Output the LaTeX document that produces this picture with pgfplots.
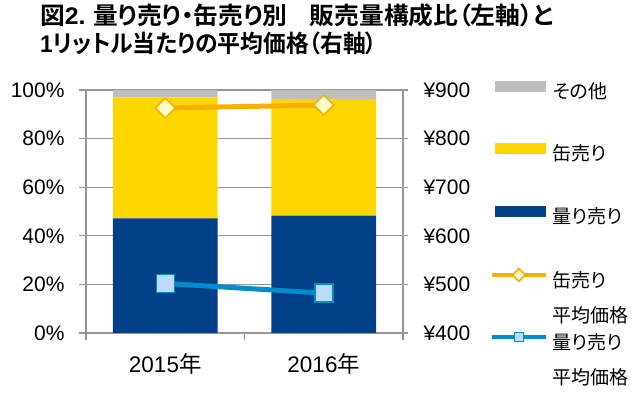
\documentclass[border=0pt]{standalone}
\usepackage{pgfplots}
\pgfplotsset{compat=1.18}
\usepackage{fontspec}
\setmainfont{Liberation Sans}
\newfontfamily\jp{Noto Sans CJK JP}[RawFeature=+palt]
\newfontfamily\jpb{Noto Sans CJK JP Bold}[RawFeature=+palt]
\definecolor{lgray}{RGB}{191,191,191}
\definecolor{byellow}{RGB}{255,214,0}
\definecolor{navy}{RGB}{0,64,135}
\definecolor{gridgray}{RGB}{150,150,150}
\definecolor{oline}{RGB}{248,176,0}
\definecolor{dfill}{RGB}{255,249,204}
\definecolor{bline}{RGB}{0,140,205}
\definecolor{sfill}{RGB}{190,218,252}
\newsavebox\tbox
\newcommand\fitw[2]{\sbox\tbox{#2}\pgfmathsetmacro\tsc{#1/\the\wd\tbox}\scalebox{\tsc}[1]{\usebox\tbox}}
\begin{document}
\begin{tikzpicture}
\useasboundingbox (0,0) rectangle (640bp,399bp);
\node[anchor=base west, inner sep=0pt, font=\fontsize{24bp}{26bp}\selectfont] at (40bp,374bp)
  {\fitw{513bp}{\jpb 図{\bfseries\rmfamily 2.}\hspace{0.3em}量り売り・缶売り別\hspace{0.9em}販売量構成比（左軸）と}};
\node[anchor=base west, inner sep=0pt, font=\fontsize{24bp}{26bp}\selectfont] at (40bp,346bp)
  {\fitw{337bp}{{\bfseries\rmfamily 1}\jpb リットル当たりの平均価格（右軸）}};
\begin{axis}[
  at={(86bp,66bp)}, anchor=south west, scale only axis,
  width=317bp, height=243bp,
  xmin=0, xmax=2, ymin=0, ymax=100,
  ybar stacked, bar width=0.66,
  axis x line*=bottom, axis y line*=left,
  xtick={0,1,2}, xticklabels={,,},
  extra x ticks={0.5,1.5},
  extra x tick labels={2015{\jp 年},2016{\jp 年}},
  extra x tick style={major tick length=0pt, xticklabel style={yshift=-17bp, font=\fontsize{22.5bp}{25bp}\selectfont}},
  ytick={0,20,...,100},
  yticklabels={0\%,20\%,40\%,60\%,80\%,100\%},
  ymajorgrids,
  grid style={draw=gridgray, line width=1.2bp},
  axis line style={draw=gridgray, line width=1.2bp, -},
  tick style={draw=gridgray, line width=1.2bp},
  tick align=outside,
  major tick length=7bp,
  tick label style={font=\fontsize{21bp}{24bp}\selectfont},
  yticklabel style={xshift=-11bp},
]
\addplot[fill=navy, draw=none] coordinates {(0.5,47.2) (1.5,48.3)};
\addplot[fill=byellow, draw=none] coordinates {(0.5,49.8) (1.5,47.9)};
\addplot[fill=lgray, draw=none] coordinates {(0.5,3.0) (1.5,3.8)};
\end{axis}
\begin{axis}[
  at={(86bp,66bp)}, anchor=south west, scale only axis,
  width=317bp, height=243bp,
  xmin=0, xmax=2, ymin=400, ymax=900,
  axis x line=none, axis y line*=right,
  ytick={400,500,...,900},
  yticklabels={¥400,¥500,¥600,¥700,¥800,¥900},
  axis line style={draw=gridgray, line width=1.2bp, -},
  tick style={draw=gridgray, line width=1.2bp},
  tick align=outside,
  major tick length=5bp,
  tick label style={font=\fontsize{21bp}{24bp}\selectfont},
  yticklabel style={xshift=12bp},
  legend cell align=left,
  legend style={draw=none, fill=none, at={(1.274,1.039)}, anchor=north west,
    inner sep=0pt, outer sep=0pt, row sep=42bp, column sep=5bp,
    font=\jp\fontsize{19bp}{22bp}\selectfont,
    nodes={inner sep=0pt, text height=14bp, text depth=3bp}},
  lline/.style={legend image code/.code={\draw[mark repeat=2,mark phase=2,##1, line width=4bp, mark size=4.5bp] plot coordinates {(0bp,7bp) (27bp,7bp) (54bp,7bp)};}},
]
\addlegendimage{legend image code/.code={\fill[lgray] (3bp,2bp) rectangle (53bp,12bp);}}
\addlegendentry{その他}
\addlegendimage{legend image code/.code={\fill[byellow] (3bp,2bp) rectangle (53bp,12bp);}}
\addlegendentry{缶売り}
\addlegendimage{legend image code/.code={\fill[navy] (3bp,2bp) rectangle (53bp,12bp);}}
\addlegendentry{量り売り}
\addplot[lline, draw=oline, line width=5bp, mark=square*, mark size=7bp,
  mark options={rotate=45, fill=dfill, draw=oline, line width=1.5bp}]
  coordinates {(0.5,863) (1.5,869)};
\addlegendentry{\makebox[0pt][l]{\raisebox{-35bp}[0pt][0pt]{平均価格}}缶売り}
\addplot[lline, draw=bline, line width=5bp, mark=square*, mark size=9bp,
  mark options={fill=sfill, draw=bline, line width=1.5bp}]
  coordinates {(0.5,502) (1.5,482)};
\addlegendentry{\makebox[0pt][l]{\raisebox{-35bp}[0pt][0pt]{平均価格}}量り売り}
\end{axis}
\end{tikzpicture}
\end{document}
